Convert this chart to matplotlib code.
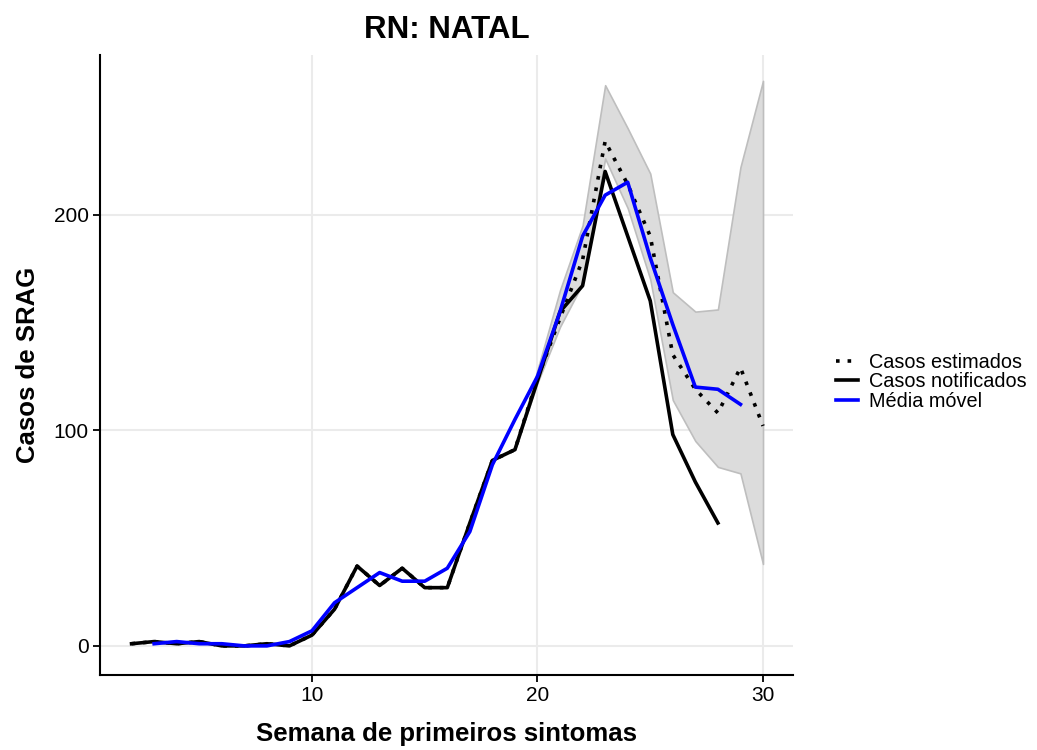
import matplotlib
matplotlib.use("Agg")
import matplotlib.pyplot as plt

plt.rcParams['font.family'] = ['Liberation Sans', 'DejaVu Sans']

# semanas e casos notificados
weeks_not = list(range(2, 29))
notificados = [1, 2, 1, 2, 0, 0, 1, 0, 5, 17, 37, 28, 36, 27, 27, 57, 86, 91,
               123, 155, 167, 220, 190, 160, 98, 76, 57]

# casos estimados (nowcasting)
weeks_est = list(range(2, 31))
estimados = [1, 2, 1, 2, 0, 0, 1, 0, 5, 17, 37, 28, 36, 27, 27, 57, 86, 91,
             124, 152, 179, 234, 214, 190, 135, 119, 108, 129, 102]

# intervalo do estimado
weeks_ic = list(range(19, 31))
ic_inf = [91, 122, 148, 168, 226, 203, 170, 114, 95, 83, 80, 38]
ic_sup = [91, 128, 165, 195, 260, 240, 219, 164, 155, 156, 222, 262]

# media movel
weeks_mm = list(range(3, 30))
media_movel = [1, 2, 1, 1, 0, 0, 2, 7, 20, 27, 34, 30, 30, 36, 53, 84, 105,
               125, 155, 190, 209, 215, 180, 149, 120, 119, 112]

fig = plt.figure(figsize=(10.37, 7.5), dpi=100)
ax = fig.add_axes([100 / 1037, 75 / 750, 693 / 1037, 620 / 750])

ax.fill_between(weeks_ic, ic_inf, ic_sup, color='#DCDCDC', edgecolor='#BEBEBE',
                linewidth=1.2, zorder=2)
ax.plot(weeks_est, estimados, color='black', linestyle=(0, (1, 2.2)), linewidth=2.6,
        label='Casos estimados', zorder=3)
ax.plot(weeks_not, notificados, color='black', linewidth=2.6,
        label='Casos notificados', zorder=4)
ax.plot(weeks_mm, media_movel, color='blue', linewidth=2.6,
        label='Média móvel', zorder=5)

ax.set_xlim(0.6, 31.33)
ax.set_ylim(-13.5, 274)
ax.set_xticks([10, 20, 30])
ax.set_yticks([0, 100, 200])
ax.grid(True, color='#EBEBEB', linewidth=1.5, zorder=0)
ax.set_axisbelow(True)
for s in ['top', 'right']:
    ax.spines[s].set_visible(False)
for s in ['left', 'bottom']:
    ax.spines[s].set_linewidth(1.5)
ax.tick_params(labelsize=15, length=5, width=1.3, colors='black', pad=3)

ax.set_xlabel('Semana de primeiros sintomas', fontsize=18.5, fontweight='bold', labelpad=12)
ax.set_ylabel('Casos de SRAG', fontsize=18.5, fontweight='bold', labelpad=10)
ax.set_title('RN: NATAL', fontsize=22.5, fontweight='bold', pad=12)

ax.legend(loc='center left', bbox_to_anchor=(1.036, 0.473), frameon=False,
          fontsize=14.3, handlelength=1.1, labelspacing=0.02, handletextpad=0.55)

fig.savefig('out.png', dpi=100)
